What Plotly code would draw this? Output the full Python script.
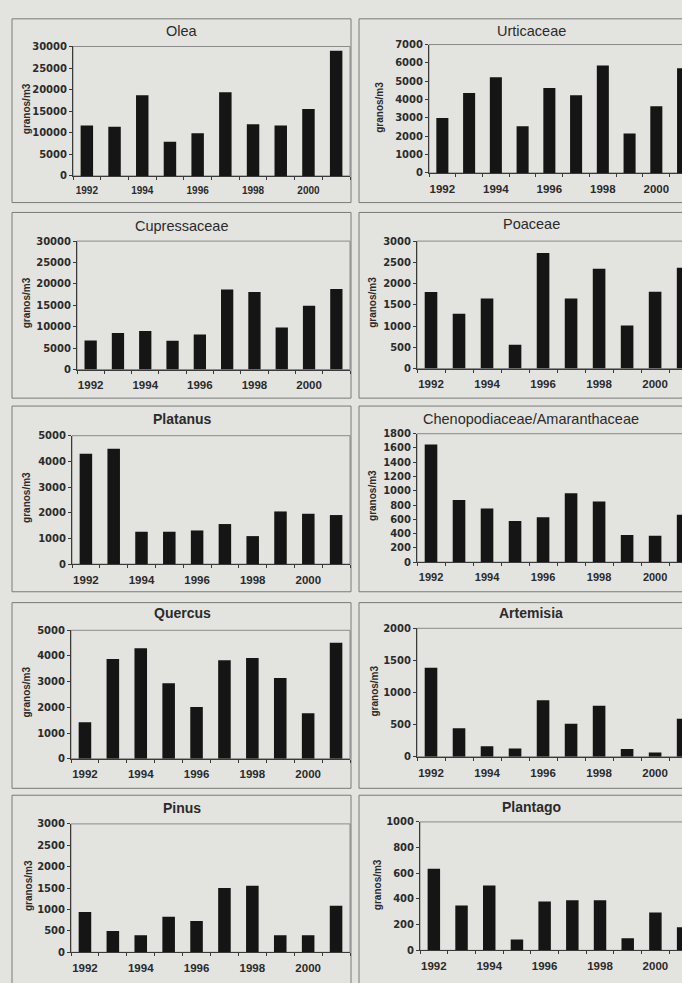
import plotly.graph_objects as go

W, H = 682, 983

# Annual pollen totals (granos/m3), 1992-2001
years = list(range(1992, 2002))
year_labels = ["1992", "1994", "1996", "1998", "2000"]

olea = [11700, 11400, 18700, 7900, 9900, 19400, 12000, 11700, 15500, 29000]
urticaceae = [3000, 4360, 5220, 2550, 4630, 4240, 5850, 2150, 3630, 5710]
cupressaceae = [6800, 8500, 9000, 6700, 8200, 18700, 18100, 9800, 14900, 18800]
poaceae = [1800, 1290, 1650, 560, 2720, 1650, 2350, 1010, 1810, 2370]
platanus = [4300, 4490, 1260, 1260, 1310, 1560, 1090, 2050, 1960, 1910]
chenopodiaceae = [1650, 870, 750, 575, 630, 965, 850, 380, 370, 665]
quercus = [1420, 3880, 4300, 2940, 2010, 3830, 3920, 3140, 1770, 4510]
artemisia = [1385, 445, 165, 130, 880, 515, 795, 120, 65, 590]
pinus = [940, 500, 400, 830, 730, 1500, 1555, 400, 400, 1090]
plantago = [635, 350, 505, 85, 380, 390, 390, 95, 295, 180]

titles = ["Olea", "Urticaceae", "Cupressaceae", "Poaceae", "Platanus",
          "Chenopodiaceae/Amaranthaceae", "Quercus", "Artemisia", "Pinus", "Plantago"]
series = [olea, urticaceae, cupressaceae, poaceae, platanus,
          chenopodiaceae, quercus, artemisia, pinus, plantago]
y_max = [30000, 7000, 30000, 3000, 5000, 1800, 5000, 2000, 3000, 1000]
y_step = [5000, 1000, 5000, 500, 1000, 200, 1000, 500, 500, 200]
bold_title = [False, False, False, False, True, False, True, True, True, True]

# plot-area boxes in pixels: (left, top, baseline)
boxes = [(73, 41, 172), (429, 39, 169),
         (77, 238, 368), (417, 238, 367),
         (72, 435, 565), (417, 433, 563),
         (71, 632, 762), (417, 630, 760),
         (71, 828, 958), (420, 826, 956)]
title_y = [25, 25, 223, 221, 418, 418, 615, 614, 812, 811]
ylab_x = [26, 380, 26, 373, 27, 373, 27, 375, 28, 377]
xfont = [10, 11.5, 11.5, 11.5, 11.5, 11, 11.5, 11.5, 11.5, 11.5]
# outer frames per row: (top, bottom)
frames = [(13, 199), (209, 397), (405, 593), (604, 792), (799, 1000)]

BG = "#e3e3e0"
INK = "#2b2b2b"
AXIS = "#3a3a3a"
BOX = "#8a8a8a"


def px(x):
    return x / W


def py(y):
    return 1 - y / H


fig = go.Figure()
shapes = []
annotations = []
layout_axes = {}

for i, (name, vals) in enumerate(zip(titles, series)):
    col = i % 2
    s = "" if i == 0 else str(i + 1)
    left, top, base = boxes[i]
    right = 350 if col == 0 else W
    xr = [1991.5, 2001.5] if col == 0 else [1991.5, 2000.96]

    fig.add_trace(go.Bar(
        x=years, y=vals, width=0.45,
        marker=dict(color="#151515", line=dict(width=0)),
        xaxis="x" + s, yaxis="y" + s, showlegend=False,
        hoverinfo="x+y",
    ))

    layout_axes["xaxis" + s] = dict(
        domain=[px(left), px(right)], anchor="y" + s, range=xr,
        tickmode="array", tickvals=[int(t) for t in year_labels], ticktext=year_labels,
        ticks="", ticklabelstandoff=5,
        minor=dict(tickmode="linear", tick0=1991.5, dtick=1, ticks="outside",
                   ticklen=3, tickcolor=AXIS, tickwidth=1, showgrid=False),
        showline=True, linecolor=AXIS, linewidth=1,
        showgrid=False, zeroline=False, fixedrange=True,
        tickfont=dict(family="Liberation Sans", size=xfont[i], color=INK, weight="bold"),
    )
    layout_axes["yaxis" + s] = dict(
        domain=[py(base), py(top)], anchor="x" + s, range=[0, y_max[i]],
        tickmode="linear", tick0=0, dtick=y_step[i],
        tickformat="d", exponentformat="none", separatethousands=False,
        ticks="outside", ticklen=3, tickcolor=AXIS, tickwidth=1,
        showline=True, linecolor=AXIS, linewidth=1,
        showgrid=False, zeroline=False, fixedrange=True,
        tickfont=dict(family="DejaVu Sans", size=10, color=INK, weight="bold"),
    )

    # grey plot-area outline
    shapes.append(dict(type="rect", xref="paper", yref="paper",
                       x0=px(left), x1=px(right) + (0 if col == 0 else 0.02),
                       y0=py(base), y1=py(top),
                       line=dict(color=BOX, width=1), layer="below"))

    cx = 182 if col == 0 else 531
    annotations.append(dict(
        text=name, x=px(cx), y=py(title_y[i]), xref="paper", yref="paper",
        xanchor="center", yanchor="middle", showarrow=False,
        font=dict(family="Liberation Sans", size=14 if bold_title[i] else 14.5,
                  color=INK, weight="bold" if bold_title[i] else "normal"),
    ))
    annotations.append(dict(
        text="granos/m3", x=px(ylab_x[i]), y=py((top + base) / 2 - 2),
        xref="paper", yref="paper", xanchor="center", yanchor="middle",
        textangle=-90, showarrow=False,
        font=dict(family="Liberation Sans", size=10, color=INK, weight="bold"),
    ))

# chart frames
for (ft, fb) in frames:
    shapes.append(dict(type="rect", xref="paper", yref="paper",
                       x0=px(12), x1=px(351), y0=py(fb), y1=py(ft),
                       line=dict(color="#7a7a7a", width=1), layer="below"))
    shapes.append(dict(type="rect", xref="paper", yref="paper",
                       x0=px(359), x1=1.05, y0=py(fb), y1=py(ft),
                       line=dict(color="#7a7a7a", width=1), layer="below"))

fig.update_layout(
    width=W, height=H,
    margin=dict(l=0, r=0, t=0, b=0),
    paper_bgcolor=BG, plot_bgcolor=BG,
    bargap=0.5,
    shapes=shapes, annotations=annotations,
    **layout_axes,
)

fig.write_html("out.html")
